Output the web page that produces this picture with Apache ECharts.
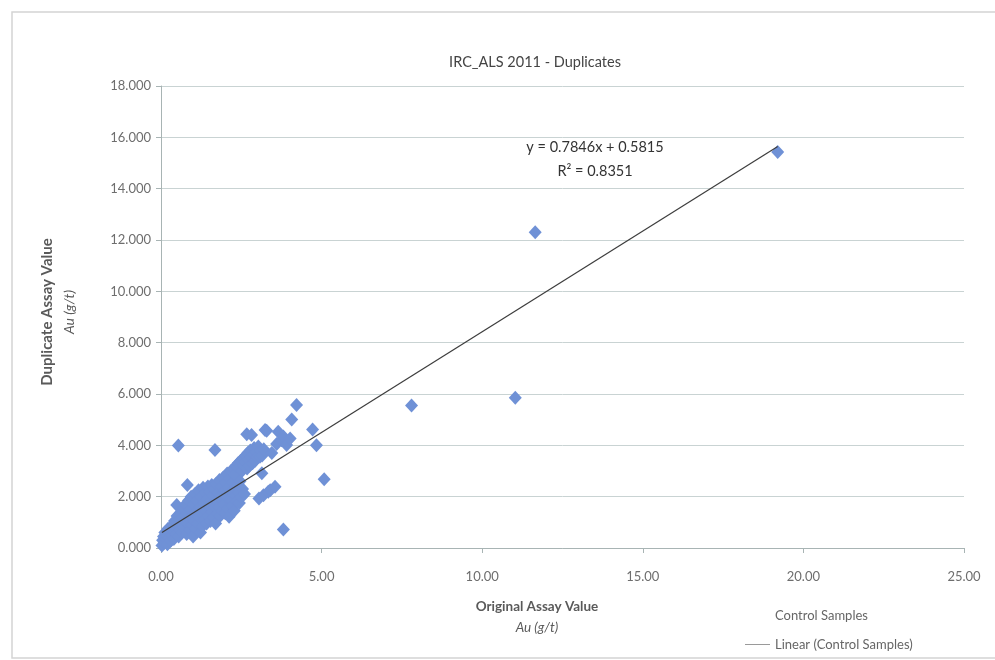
<!DOCTYPE html>
<html>
<head>
<meta charset="utf-8">
<script src="https://cdn.jsdelivr.net/npm/echarts@6/dist/echarts.min.js"></script>
<style>
  html, body { margin: 0; padding: 0; background: #ffffff; }
  #chart { width: 995px; height: 660px; }
</style>
</head>
<body>
<div id="chart"></div>
<script>
// Original assay vs duplicate assay, Au (g/t)
const controlSamples = [
  [0.03,0.10],[0.05,0.30],[0.08,0.45],[0.10,0.20],[0.12,0.60],[0.15,0.35],[0.18,0.50],[0.20,0.15],
  [0.22,0.75],[0.25,0.40],[0.28,0.60],[0.30,0.28],
  [0.33,0.85],[0.35,0.50],[0.38,0.65],[0.40,0.35],[0.42,1.05],[0.45,0.75],[0.48,0.55],[0.50,1.25],
  [0.52,0.90],[0.55,0.45],[0.57,1.10],[0.60,0.70],[0.49,1.68],[0.54,3.99],
  [0.62,1.35],[0.64,0.95],[0.66,0.60],[0.68,1.20],[0.70,1.55],[0.72,0.80],[0.75,1.05],[0.77,1.70],
  [0.80,0.55],[0.82,1.35],[0.84,0.95],[0.86,1.85],[0.88,1.15],[0.90,0.70],[0.82,2.45],
  [0.92,1.50],[0.94,2.00],[0.96,0.90],[0.98,1.25],[1.00,0.45],[1.02,1.70],[1.04,1.05],[1.06,2.10],
  [1.08,0.75],[1.10,1.40],[1.12,1.85],[1.15,0.95],[1.17,2.25],[1.19,1.20],
  [1.21,1.60],[1.23,0.60],[1.25,2.00],[1.27,1.35],[1.29,0.85],[1.31,2.35],[1.33,1.75],[1.35,1.10],
  [1.38,2.15],[1.40,1.45],[1.42,0.95],[1.44,1.90],[1.46,2.40],[1.48,1.25],
  [1.50,1.65],[1.52,2.20],[1.54,1.05],[1.56,1.85],[1.58,2.45],[1.60,1.40],[1.62,2.05],[1.64,1.20],
  [1.66,2.30],[1.68,1.60],[1.70,0.95],[1.72,2.50],[1.74,1.85],[1.76,1.35],[1.78,2.15],[1.68,3.82],
  [1.80,1.60],[1.82,2.65],[1.84,1.25],[1.86,2.05],[1.88,2.40],[1.90,1.45],[1.92,1.85],[1.94,2.75],
  [1.96,1.70],[1.98,2.25],[2.00,1.35],[2.02,2.55],[2.04,2.00],[2.06,2.90],[2.08,1.55],
  [2.10,2.35],[2.12,1.22],[2.14,2.70],[2.16,1.90],[2.18,3.00],[2.20,2.20],[2.22,1.65],[2.24,2.55],
  [2.26,3.10],[2.28,1.45],[2.30,2.85],[2.32,2.05],[2.34,3.20],[2.36,1.80],[2.38,2.45],
  [2.40,3.30],[2.42,2.15],[2.44,1.75],[2.46,2.60],[2.48,3.40],[2.50,2.00],[2.52,3.00],[2.54,2.30],
  [2.56,3.50],[2.58,3.20],[2.60,2.10],[2.62,3.35],[2.64,3.60],[2.67,4.43],[2.68,3.10],[2.70,3.70],
  [2.72,3.45],[2.75,3.20],[2.78,3.80],[2.80,3.55],[2.82,4.40],[2.85,3.30],[2.88,3.65],[2.90,3.90],
  [2.93,3.40],[2.96,3.75],[3.00,3.55],[3.03,3.95],[3.05,1.93],[3.08,3.56],[3.10,3.80],[3.14,2.91],
  [3.15,3.60],[3.19,2.06],[3.20,3.85],[3.24,4.60],[3.29,4.57],[3.34,2.19],[3.40,2.25],[3.45,3.70],
  [3.55,2.39],[3.60,4.05],[3.65,4.53],[3.75,4.20],[3.81,4.34],[3.81,0.72],[3.91,4.01],[4.02,4.27],
  [4.07,5.01],[4.22,5.57],[4.72,4.62],[4.84,4.00],[5.08,2.68],[7.80,5.55],[11.03,5.85],[11.65,12.30],
  [19.20,15.43]
];

// Least-squares fit shown on the chart
const trendSlope = 0.7846;
const trendIntercept = 0.5815;
const trendR2 = 0.8351;

const xTicks = { min: 0, max: 25, interval: 5 };
const yTicks = { min: 0, max: 18, interval: 2 };

const xs = controlSamples.map(p => p[0]);
const xMin = Math.min(...xs);
const xMax = Math.max(...xs);
const trendLine = [
  [xMin, trendSlope * xMin + trendIntercept],
  [xMax, trendSlope * xMax + trendIntercept]
];

const FONT = 'Lato, "Open Sans", sans-serif';
const chart = echarts.init(document.getElementById('chart'), null, { renderer: 'canvas' });

chart.setOption({
  backgroundColor: '#ffffff',
  animation: false,
  textStyle: { fontFamily: FONT },
  title: {
    text: 'IRC_ALS 2011 - Duplicates',
    left: 530, top: 50,
    textAlign: 'center',
    textStyle: { fontFamily: FONT, fontSize: 14.5, fontWeight: 'normal', color: '#444444' }
  },
  grid: { left: 161, right: 31, top: 86, bottom: 112, containLabel: false },
  xAxis: {
    type: 'value',
    min: xTicks.min, max: xTicks.max, interval: xTicks.interval,
    axisLine: { show: true, lineStyle: { color: '#a8b4b4', width: 1 } },
    axisTick: { show: true, length: 5, inside: false, lineStyle: { color: '#a8b4b4' } },
    splitLine: { show: false },
    axisLabel: {
      margin: 22, fontSize: 13, color: '#6e6e6e', fontFamily: FONT,
      formatter: v => v.toFixed(2)
    }
  },
  yAxis: {
    type: 'value',
    min: yTicks.min, max: yTicks.max, interval: yTicks.interval,
    axisLine: { show: true, lineStyle: { color: '#a8b4b4', width: 1 } },
    axisTick: { show: true, length: 5, inside: false, lineStyle: { color: '#a8b4b4' } },
    splitLine: { show: true, lineStyle: { color: '#c9d3d3', width: 1 } },
    axisLabel: {
      margin: 10, fontSize: 13, color: '#6e6e6e', fontFamily: FONT,
      formatter: v => v.toFixed(3)
    }
  },
  legend: {
    orient: 'vertical',
    left: 740, top: 604,
    itemWidth: 25, itemHeight: 10, itemGap: 16,
    textStyle: { fontSize: 13, color: '#666666', fontFamily: FONT },
    data: [
      { name: 'Control Samples', icon: 'none' },
      { name: 'Linear (Control Samples)', icon: 'path://M0,0 L25,0 L25,1 L0,1 Z',
        itemStyle: { color: '#9a9a9a' } }
    ]
  },
  series: [
    {
      name: 'Control Samples',
      type: 'scatter',
      symbol: 'diamond',
      symbolSize: [13, 14],
      itemStyle: { color: '#6f91d6', opacity: 1 },
      data: controlSamples,
      z: 2
    },
    {
      name: 'Linear (Control Samples)',
      type: 'line',
      symbol: 'none',
      showSymbol: false,
      lineStyle: { color: '#3c3c3c', width: 1.2 },
      itemStyle: { color: '#3c3c3c' },
      data: trendLine,
      z: 3
    }
  ],
  graphic: [
    {
      type: 'rect', silent: true, z: -1,
      shape: { x: 12, y: 12, width: 1000, height: 646 },
      style: { fill: 'none', stroke: '#d4d4d4', lineWidth: 1.5 }
    },
    {
      type: 'text', x: 595, y: 135, z: 10,
      style: {
        text: 'y = ' + trendSlope.toFixed(4) + 'x + ' + trendIntercept.toFixed(4) + '\nR² = ' + trendR2.toFixed(4),
        align: 'center', verticalAlign: 'top',
        font: '14.5px ' + FONT, fill: '#333333', lineHeight: 24
      }
    },
    {
      type: 'text', x: 47, y: 312, rotation: Math.PI / 2,
      style: {
        text: 'Duplicate Assay Value',
        align: 'center', verticalAlign: 'middle',
        font: 'bold 15px ' + FONT, fill: '#5a5a5a'
      }
    },
    {
      type: 'text', x: 69, y: 312, rotation: Math.PI / 2,
      style: {
        text: 'Au (g/t)',
        align: 'center', verticalAlign: 'middle',
        font: 'italic 14px ' + FONT, fill: '#5a5a5a'
      }
    },
    {
      type: 'text', x: 537, y: 607,
      style: {
        text: 'Original Assay Value',
        align: 'center', verticalAlign: 'middle',
        font: 'bold 13.5px ' + FONT, fill: '#5a5a5a'
      }
    },
    {
      type: 'text', x: 537, y: 628,
      style: {
        text: 'Au (g/t)',
        align: 'center', verticalAlign: 'middle',
        font: 'italic 13.5px ' + FONT, fill: '#5a5a5a'
      }
    }
  ]
});
</script>
</body>
</html>
